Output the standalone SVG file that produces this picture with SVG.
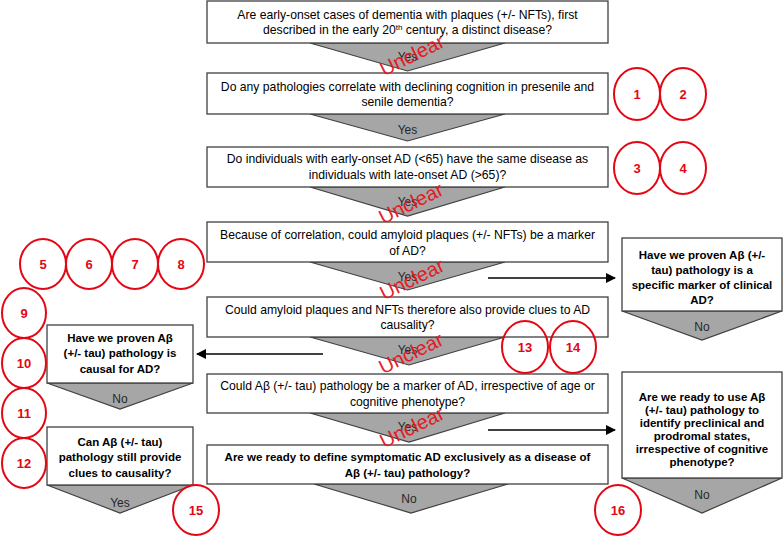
<svg xmlns="http://www.w3.org/2000/svg" width="784" height="537" viewBox="0 0 784 537">
<defs>
<style>
.box{fill:#fff;stroke:#404040;stroke-width:1.3}
.tri{fill:#a6a6a6;stroke:#404040;stroke-width:1.2}
.t{font-family:"Liberation Sans",Arial,sans-serif;font-size:12.2px;fill:#000;text-anchor:middle}
.b{font-weight:bold;font-size:11.5px}
.lbl{font-family:"Liberation Sans",Arial,sans-serif;font-size:12px;fill:#262626;text-anchor:middle}
.unc{font-family:"Liberation Sans",Arial,sans-serif;font-size:20px;fill:#e8141b;text-anchor:middle;opacity:0.95}
.c{fill:none;stroke:#e30613;stroke-width:2}
.n{font-family:"Liberation Sans",Arial,sans-serif;font-size:13px;font-weight:bold;fill:#e30613;text-anchor:middle}
.arr{stroke:#000;stroke-width:1.6;fill:none;marker-end:url(#ah)}
</style>
<marker id="ah" markerWidth="10" markerHeight="10" refX="9" refY="5" orient="auto" markerUnits="userSpaceOnUse">
<path d="M0,0 L10,5 L0,10 Z" fill="#000"/>
</marker>
</defs>

<g id="q1">
<polygon class="tri" points="310,43 505,43 407.5,71"/>
<rect class="box" x="207" y="1" width="401" height="42"/>
<text class="t" x="407.5" y="19">Are early-onset cases of dementia with plaques (+/- NFTs), first</text>
<text class="t" x="407.5" y="34">described in the early 20<tspan font-size="8" dy="-4">th</tspan><tspan dy="4"> century, a distinct disease?</tspan></text>
<text class="lbl" x="407.5" y="61">Yes</text>
</g>

<g id="q2">
<polygon class="tri" points="310,114 505,114 407.5,141"/>
<rect class="box" x="207" y="73" width="401" height="41"/>
<text class="t" x="407.5" y="91">Do any pathologies correlate with declining cognition in presenile and</text>
<text class="t" x="407.5" y="106">senile dementia?</text>
<text class="lbl" x="407.5" y="134">Yes</text>
</g>

<g id="q3">
<polygon class="tri" points="310,187 505,187 407.5,216"/>
<rect class="box" x="207" y="147" width="401" height="40"/>
<text class="t" x="407.5" y="163">Do individuals with early-onset AD (&lt;65) have the same disease as</text>
<text class="t" x="407.5" y="179">individuals with late-onset AD (&gt;65)?</text>
<text class="lbl" x="407.5" y="206">Yes</text>
</g>

<g id="q4">
<polygon class="tri" points="310,262 505,262 407.5,290"/>
<rect class="box" x="207" y="222" width="401" height="40"/>
<text class="t" x="407.5" y="239">Because of correlation, could amyloid plaques (+/- NFTs) be a marker</text>
<text class="t" x="407.5" y="255">of AD?</text>
<text class="lbl" x="407.5" y="281">Yes</text>
</g>

<g id="q5">
<polygon class="tri" points="310,337 505,337 409,365"/>
<rect class="box" x="207" y="297" width="401" height="40"/>
<text class="t" x="407.5" y="314">Could amyloid plaques and NFTs therefore also provide clues to AD</text>
<text class="t" x="407.5" y="329">causality?</text>
<text class="lbl" x="407.5" y="354">Yes</text>
</g>

<g id="q6">
<polygon class="tri" points="310,413 505,413 409,442"/>
<rect class="box" x="207" y="374" width="401" height="39"/>
<text class="t" x="407.5" y="390">Could Aβ (+/- tau) pathology be a marker of AD, irrespective of age or</text>
<text class="t" x="407.5" y="406">cognitive phenotype?</text>
<text class="lbl" x="407.5" y="431">Yes</text>
</g>

<g id="q7">
<polygon class="tri" points="314,484 508,484 411,513"/>
<rect class="box" x="207" y="445" width="401" height="39"/>
<text class="t b" x="407.5" y="461">Are we ready to define symptomatic AD exclusively as a disease of</text>
<text class="t b" x="407.5" y="477">Aβ (+/- tau) pathology?</text>
<text class="lbl" x="409" y="503">No</text>
</g>

<g id="l1">
<polygon class="tri" points="47,383 193,383 120,409"/>
<rect class="box" x="47" y="325" width="146" height="58"/>
<text class="t b" x="120" y="342">Have we proven Aβ</text>
<text class="t b" x="120" y="357">(+/- tau) pathology is</text>
<text class="t b" x="120" y="373">causal for AD?</text>
<text class="lbl" x="120" y="403">No</text>
</g>

<g id="l2">
<polygon class="tri" points="47,485 193,485 120,513"/>
<rect class="box" x="47" y="427" width="146" height="58"/>
<text class="t b" x="120" y="446">Can Aβ (+/- tau)</text>
<text class="t b" x="120" y="461">pathology still provide</text>
<text class="t b" x="120" y="477">clues to causality?</text>
<text class="lbl" x="120" y="507">Yes</text>
</g>

<g id="r1">
<polygon class="tri" points="622,311 782,311 702,340"/>
<rect class="box" x="622" y="238" width="160" height="73"/>
<text class="t b" x="702" y="259">Have we proven Aβ (+/-</text>
<text class="t b" x="702" y="274">tau) pathology is a</text>
<text class="t b" x="702" y="289">specific marker of clinical</text>
<text class="t b" x="702" y="304">AD?</text>
<text class="lbl" x="702" y="331">No</text>
</g>

<g id="r2">
<polygon class="tri" points="622,478 782,478 702,513"/>
<rect class="box" x="622" y="372" width="160" height="106"/>
<text class="t b" x="702" y="401">Are we ready to use Aβ</text>
<text class="t b" x="702" y="414">(+/- tau) pathology to</text>
<text class="t b" x="702" y="427">identify preclinical and</text>
<text class="t b" x="702" y="440">prodromal states,</text>
<text class="t b" x="702" y="453">irrespective of cognitive</text>
<text class="t b" x="702" y="466">phenotype?</text>
<text class="lbl" x="702" y="499">No</text>
</g>

<g id="connectors">
<line class="arr" x1="488" y1="278" x2="615" y2="278"/>
<line class="arr" x1="323" y1="354" x2="197" y2="354"/>
<line class="arr" x1="488" y1="430" x2="615" y2="430"/>
</g>

<g id="unclear">
<text class="unc" transform="translate(412,55) rotate(-26)" y="7">Unclear</text>
<text class="unc" transform="translate(411,203) rotate(-26)" y="7">Unclear</text>
<text class="unc" transform="translate(412,279) rotate(-26)" y="7">Unclear</text>
<text class="unc" transform="translate(411,353) rotate(-26)" y="7">Unclear</text>
<text class="unc" transform="translate(412,427) rotate(-26)" y="7">Unclear</text>
</g>

<g id="refs">
<g id="ref1"><ellipse class="c" cx="637" cy="94" rx="23" ry="26"/><text class="n" x="637" y="99">1</text></g>
<g id="ref2"><ellipse class="c" cx="683" cy="94" rx="23" ry="26"/><text class="n" x="683" y="99">2</text></g>
<g id="ref3"><ellipse class="c" cx="637" cy="168" rx="23" ry="26"/><text class="n" x="637" y="173">3</text></g>
<g id="ref4"><ellipse class="c" cx="683" cy="168" rx="23" ry="26"/><text class="n" x="683" y="173">4</text></g>
<g id="ref5"><ellipse class="c" cx="43" cy="264" rx="23" ry="25"/><text class="n" x="43" y="269">5</text></g>
<g id="ref6"><ellipse class="c" cx="89" cy="264" rx="23" ry="25"/><text class="n" x="89" y="269">6</text></g>
<g id="ref7"><ellipse class="c" cx="135" cy="264" rx="23" ry="25"/><text class="n" x="135" y="269">7</text></g>
<g id="ref8"><ellipse class="c" cx="181" cy="264" rx="23" ry="25"/><text class="n" x="181" y="269">8</text></g>
<g id="ref9"><ellipse class="c" cx="24" cy="313" rx="22" ry="25"/><text class="n" x="24" y="318">9</text></g>
<g id="ref10"><ellipse class="c" cx="24" cy="363" rx="22" ry="25"/><text class="n" x="24" y="368">10</text></g>
<g id="ref11"><ellipse class="c" cx="24" cy="413" rx="22" ry="25"/><text class="n" x="24" y="418">11</text></g>
<g id="ref12"><ellipse class="c" cx="24" cy="463" rx="22" ry="25"/><text class="n" x="24" y="468">12</text></g>
<g id="ref13"><ellipse class="c" cx="525" cy="347" rx="23" ry="26"/><text class="n" x="525" y="352">13</text></g>
<g id="ref14"><ellipse class="c" cx="573" cy="347" rx="23" ry="26"/><text class="n" x="573" y="352">14</text></g>
<g id="ref15"><ellipse class="c" cx="196" cy="510" rx="23" ry="25"/><text class="n" x="196" y="515">15</text></g>
<g id="ref16"><ellipse class="c" cx="618" cy="510" rx="23" ry="25"/><text class="n" x="618" y="515">16</text></g>
</g>
</svg>
